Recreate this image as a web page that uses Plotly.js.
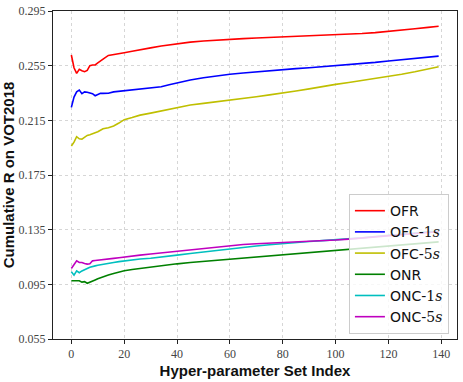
<!DOCTYPE html>
<html lang="en">
<head>
    <meta charset="UTF-8">
    <title>Cumulative R on VOT2018</title>
    <script src="https://cdn.plot.ly/plotly-3.0.1.min.js"></script>
    <style>
        body { margin: 0; padding: 0; background: white; }
        #plot { width: 463px; height: 382px; }
    </style>
</head>
<body>
    <div id="plot"></div>
    <script>
        // hyper-parameter set indices (sampled along the curves)
        const idx = [0, 1, 2, 3, 4, 5, 6, 7, 8, 9, 10, 11, 12, 14, 16, 18, 20, 23, 26, 30, 34, 37, 40,
            45, 50, 55, 60, 65, 70, 75, 80, 85, 90, 95, 100, 105, 110, 115, 120, 125, 130, 135, 139];

        const ofr = [0.2628, 0.2535, 0.2494, 0.2523, 0.2513, 0.2506, 0.2515, 0.2550, 0.2555, 0.2556, 0.2570,
            0.2586, 0.2598, 0.2625, 0.2630, 0.2636, 0.2645, 0.2655, 0.2668, 0.2680, 0.2694, 0.2703, 0.2710,
            0.2722, 0.2730, 0.2737, 0.2742, 0.2748, 0.2752, 0.2756, 0.2760, 0.2763, 0.2768, 0.2772, 0.2773,
            0.2778, 0.2785, 0.2792, 0.2800, 0.2810, 0.2820, 0.2830, 0.2838];

        const ofc1 = [0.2245, 0.2320, 0.2359, 0.2372, 0.2345, 0.2358, 0.2355, 0.2350, 0.2345, 0.2330, 0.2340,
            0.2348, 0.2347, 0.2348, 0.2358, 0.2362, 0.2367, 0.2372, 0.2377, 0.2385, 0.2396, 0.2410, 0.2425,
            0.2445, 0.2462, 0.2476, 0.2487, 0.2496, 0.2505, 0.2512, 0.2520, 0.2528, 0.2535, 0.2542, 0.2552,
            0.2558, 0.2565, 0.2574, 0.2584, 0.2594, 0.2604, 0.2613, 0.2620];

        const ofc5 = [0.1962, 0.1990, 0.2030, 0.2015, 0.2013, 0.2025, 0.2040, 0.2045, 0.2050, 0.2059, 0.2066,
            0.2079, 0.2088, 0.2096, 0.2108, 0.2130, 0.2155, 0.2170, 0.2188, 0.2203, 0.2218, 0.2232, 0.2242,
            0.2262, 0.2274, 0.2285, 0.2298, 0.2310, 0.2323, 0.2336, 0.2348, 0.2365, 0.2380, 0.2398, 0.2413,
            0.2427, 0.2442, 0.2455, 0.2469, 0.2487, 0.2505, 0.2525, 0.2542];

        const onr = [0.0976, 0.0976, 0.0975, 0.0976, 0.0966, 0.0970, 0.0958, 0.0968, 0.0976, 0.0982, 0.0990,
            0.0998, 0.1005, 0.1018, 0.1030, 0.1040, 0.1049, 0.1058, 0.1066, 0.1075, 0.1084, 0.1090, 0.1100,
            0.1110, 0.1118, 0.1127, 0.1135, 0.1143, 0.1152, 0.1160, 0.1169, 0.1176, 0.1185, 0.1192, 0.1200,
            0.1207, 0.1215, 0.1223, 0.1232, 0.1240, 0.1248, 0.1255, 0.1261];

        const onc1 = [0.1042, 0.1017, 0.1049, 0.1035, 0.1048, 0.1055, 0.1066, 0.1075, 0.1083, 0.1085, 0.1090,
            0.1094, 0.1098, 0.1105, 0.1110, 0.1116, 0.1122, 0.1128, 0.1135, 0.1141, 0.1148, 0.1155, 0.1164,
            0.1175, 0.1186, 0.1200, 0.1213, 0.1222, 0.1231, 0.1240, 0.1249, 0.1256, 0.1263, 0.1270, 0.1275,
            0.1282, 0.1290, 0.1300, 0.1310, 0.1318, 0.1326, 0.1334, 0.1340];

        const onc5 = [0.1066, 0.1095, 0.1122, 0.1110, 0.1110, 0.1103, 0.1098, 0.1100, 0.1122, 0.1124, 0.1127,
            0.1130, 0.1132, 0.1138, 0.1140, 0.1145, 0.1151, 0.1157, 0.1164, 0.1172, 0.1180, 0.1188, 0.1193,
            0.1205, 0.1215, 0.1226, 0.1237, 0.1242, 0.1247, 0.1251, 0.1254, 0.1259, 0.1264, 0.1269, 0.1274,
            0.1281, 0.1288, 0.1296, 0.1305, 0.1314, 0.1322, 0.1329, 0.1335];

        const yTicks = [0.055, 0.095, 0.135, 0.175, 0.215, 0.255, 0.295];
        const xTicks = [0, 20, 40, 60, 80, 100, 120, 140];

        const mathS = '<span style="font-family:\'DejaVu Serif\', serif">';
        const series = [
            {name: 'OFR', y: ofr, color: '#ff0000'},
            {name: 'OFC-' + mathS + '1<i>s</i></span>', y: ofc1, color: '#0000ff'},
            {name: 'OFC-' + mathS + '5<i>s</i></span>', y: ofc5, color: '#bfbf00'},
            {name: 'ONR', y: onr, color: '#008000'},
            {name: 'ONC-' + mathS + '1<i>s</i></span>', y: onc1, color: '#00bfbf'},
            {name: 'ONC-' + mathS + '5<i>s</i></span>', y: onc5, color: '#bf00bf'}
        ];

        const traces = series.map(s => ({
            x: idx,
            y: s.y,
            name: s.name,
            type: 'scatter',
            mode: 'lines',
            line: {color: s.color, width: 1.6}
        }));

        const titleFont = {family: 'Liberation Sans, Arial, sans-serif', size: 15, color: '#111', weight: 'bold'};

        const axisCommon = {
            showline: true,
            linecolor: '#222',
            linewidth: 1,
            mirror: true,
            ticks: 'outside',
            ticklen: 4,
            tickcolor: '#222',
            showgrid: true,
            gridcolor: '#d6d6d6',
            griddash: 'dot',
            gridwidth: 1,
            zeroline: false,
            tickfont: {family: 'Liberation Serif, serif', size: 12, color: '#444'}
        };

        const layout = {
            width: 463,
            height: 382,
            margin: {l: 53, r: 6, t: 11, b: 43},
            paper_bgcolor: 'white',
            plot_bgcolor: 'white',
            showlegend: true,
            xaxis: Object.assign({}, axisCommon, {
                range: [-6.95, 145.95],
                tickmode: 'array',
                tickvals: xTicks,
                title: {text: 'Hyper-parameter Set Index', standoff: 5, font: titleFont}
            }),
            yaxis: Object.assign({}, axisCommon, {
                range: [0.055, 0.295],
                tickmode: 'array',
                tickvals: yTicks,
                tickformat: '.3f',
                title: {text: 'Cumulative R on VOT2018', standoff: 9, font: titleFont}
            }),
            legend: {
                x: 0.98,
                y: 0.015,
                xanchor: 'right',
                yanchor: 'bottom',
                bgcolor: 'rgba(255,255,255,0.8)',
                bordercolor: '#cccccc',
                borderwidth: 1,
                font: {family: 'DejaVu Sans, sans-serif', size: 14, color: '#111'},
                tracegroupgap: 0,
                itemwidth: 30
            }
        };

        Plotly.newPlot('plot', traces, layout, {displayModeBar: false, staticPlot: true});
    </script>
</body>
</html>
